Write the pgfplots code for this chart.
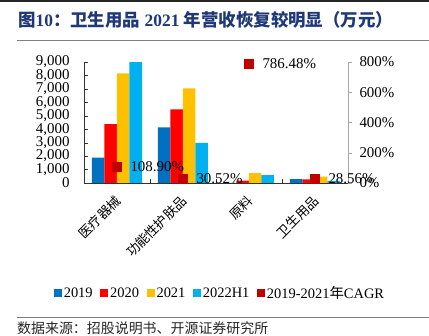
\documentclass[border=0pt]{standalone}
\usepackage{pgfplots}
\pgfplotsset{compat=1.18}
\usepackage{fontspec}
\setmainfont{Liberation Serif}
\newfontfamily\cjk{Noto Sans CJK SC}
\definecolor{c19}{HTML}{0070C0}
\definecolor{c20}{HTML}{FF0000}
\definecolor{c21}{HTML}{FFC000}
\definecolor{c22}{HTML}{00B0F0}
\definecolor{cagr}{HTML}{C00000}
\definecolor{titleblue}{RGB}{31,56,120}
\begin{document}
\begin{tikzpicture}[x=1bp,y=1bp]
\path[use as bounding box] (0,0) rectangle (429,336);
\draw[line width=2bp, black!85] (0,335) -- (429,335);
\node[anchor=west, text=titleblue, font=\fontsize{17.5}{19}\selectfont\bfseries, inner sep=0pt] at (18,316) {{\cjk 图}10{\cjk ：卫生用品} 2021 {\cjk 年营收恢复较明显（万元）}};
\draw[gray, line width=0.9bp] (17,295.5) -- (429,295.5);
\draw[gray, line width=0.9bp] (17,18.3) -- (429,18.3);
\node[anchor=west, inner sep=0pt, font=\cjk\fontsize{14}{16}\selectfont, text=black!85] at (17,7.5) {数据来源：招股说明书、开源证券研究所};

\begin{axis}[
  at={(84bp,153bp)}, anchor=south west, scale only axis,
  width=264bp, height=121bp,
  xmin=-0.5, xmax=3.5, ymin=0, ymax=9000,
  axis x line*=bottom, axis y line*=left,
  axis line style={black!80},
  ybar=0pt, bar width=12.5bp,
  xtick={0,1,2,3},
  xticklabels={医疗器械,功能性护肤品,原料,卫生用品},
  minor xtick={0.5,1.5,2.5},
  major x tick style={draw=none},
  minor tick length=4bp, major tick length=4bp,
  tick align=inside,
  tick style={black!80},
  ytick={0,1000,...,9000},
  /pgf/number format/1000 sep={,},
  /pgf/number format/assume math mode=true,
  yticklabel style={font=\fontsize{15}{16}\selectfont, xshift=-11bp},
  xticklabel style={font=\cjk\fontsize{13.2}{15}\selectfont, xshift=-3bp, yshift=-11bp, rotate=45, anchor=north east, inner sep=0pt},
]
\addplot[fill=c19, draw=none] coordinates {(0,1880) (1,4144) (2,10) (3,290)};
\addplot[fill=c20, draw=none] coordinates {(0,4380) (1,5480) (2,170) (3,270)};
\addplot[fill=c21, draw=none] coordinates {(0,8160) (1,7045) (2,740) (3,470)};
\addplot[fill=c22, draw=none] coordinates {(0,9000) (1,2976) (2,595) (3,150)};
\end{axis}

\begin{axis}[
  at={(84bp,153bp)}, anchor=south west, scale only axis,
  width=264bp, height=121bp,
  xmin=-0.5, xmax=3.5, ymin=0, ymax=800,
  clip=false,
  axis x line=none, axis y line*=right,
  y axis line style={gray!70},
  ytick={0,200,...,800},
  yticklabel={\pgfmathprintnumber{\tick}\%},
  /pgf/number format/assume math mode=true,
  tick align=outside, major tick length=4bp,
  ytick style={gray!70},
  yticklabel style={font=\fontsize{15}{16}\selectfont, xshift=4bp},
  legend style={at={(0.515,-0.909)}, anchor=center, draw=none, fill=none,
    legend columns=-1, font=\fontsize{14.5}{16}\selectfont,
    /tikz/every even column/.append style={column sep=5.5bp},
    inner sep=0pt},
  legend image code/.code={\fill[#1] (0bp,-3.8bp) rectangle (8bp,3.8bp);},
]
\addlegendimage{fill=c19, draw=none}
\addlegendentry{2019}
\addlegendimage{fill=c20, draw=none}
\addlegendentry{2020}
\addlegendimage{fill=c21, draw=none}
\addlegendentry{2021}
\addlegendimage{fill=c22, draw=none}
\addlegendentry{2022H1}
\addlegendimage{fill=cagr, draw=none}
\addlegendentry{2019-2021{\cjk 年}CAGR}
\addplot[only marks, mark=square*, mark size=4.5bp, color=cagr, forget plot,
  nodes near coords, point meta=explicit symbolic,
  every node near coord/.append style={anchor=west, xshift=10bp, text=black, font=\fontsize{15}{16}\selectfont}]
  coordinates {(0,108.90)[108.90\%] (1,30.52)[30.52\%] (2,786.48)[786.48\%] (3,28.56)[28.56\%]};
\end{axis}
\end{tikzpicture}
\end{document}
